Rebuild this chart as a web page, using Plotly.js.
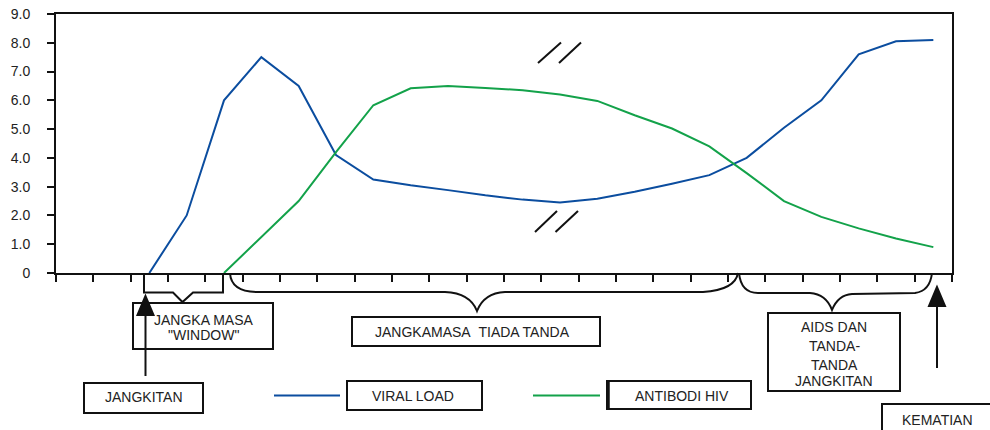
<!DOCTYPE html>
<html>
<head>
<meta charset="utf-8">
<script src="https://cdn.plot.ly/plotly-3.0.1.min.js"></script>
<style>html,body{margin:0;padding:0;background:#fff;}#chart{width:990px;height:430px;}</style>
</head>
<body>
<div id="chart"></div>
<script>
// ---- data ----
const periods = [0, 1, 2, 3, 4, 5, 6, 7, 8, 9, 10, 11, 12, 13, 14, 15, 16, 17, 18, 19, 20, 21, 22, 23];
const viralLoad = [null, null, 0, 2.0, 6.0, 7.5, 6.5, 4.1, 3.25, 3.05, 2.88, 2.7, 2.55, 2.45, 2.58, 2.82, 3.1, 3.4, 4.0, 5.05, 6.0, 7.6, 8.05, 8.1];
const antibodiHIV = [null, null, null, null, 0, 1.25, 2.5, 4.2, 5.83, 6.42, 6.5, 6.43, 6.35, 6.2, 5.98, 5.48, 5.02, 4.4, 3.47, 2.5, 1.95, 1.55, 1.2, 0.9];
const yTickVals = [0, 1, 2, 3, 4, 5, 6, 7, 8, 9];
const yTickText = ['0', '1.0', '2.0', '3.0', '4.0', '5.0', '6.0', '7.0', '8.0', '9.0'];
const seriesNames = ['VIRAL LOAD', 'ANTIBODI HIV'];

// ---- layout helpers (pixel -> paper) ----
const L = 56, R = 952, T = 14, B = 273;
const px = x => (x - L) / (R - L);
const py = y => (B - y) / (B - T);
function path(cmds) {
  // cmds: array of [letter, x1, y1, x2, y2 ...]
  return cmds.map(c => {
    const out = [c[0]];
    for (let i = 1; i < c.length; i += 2) out.push(px(c[i]).toFixed(5) + ',' + py(c[i + 1]).toFixed(5));
    return out.join(' ');
  }).join(' ');
}
const blk = {color: '#111', width: 2};
const shapes = [];
function rect(x0, y0, x1, y1, w) {
  shapes.push({type: 'rect', xref: 'paper', yref: 'paper', x0: px(x0), x1: px(x1), y0: py(y0), y1: py(y1),
    line: {color: '#111', width: w || 2}, fillcolor: 'rgba(0,0,0,0)'});
}
function seg(x0, y0, x1, y1, color, w) {
  shapes.push({type: 'line', xref: 'paper', yref: 'paper', x0: px(x0), x1: px(x1), y0: py(y0), y1: py(y1),
    line: {color: color || '#111', width: w || 2}});
}
function pth(cmds, fill) {
  shapes.push({type: 'path', xref: 'paper', yref: 'paper', path: path(cmds), line: blk,
    fillcolor: fill || 'rgba(0,0,0,0)'});
}

// brackets / braces
pth([['M', 144, 273], ['L', 144, 292.5], ['L', 173, 292.5], ['L', 182.5, 302], ['L', 193, 292.5], ['L', 223, 292.5], ['L', 223, 273]]);
pth([['M', 230, 273], ['Q', 231, 292, 258, 292], ['L', 445, 292], ['Q', 470, 293, 477, 311], ['Q', 484, 293, 505, 292], ['L', 703, 292], ['Q', 735, 290, 738, 273]]);
pth([['M', 739, 273], ['Q', 741, 293, 758, 293], ['L', 810, 293], ['Q', 826, 294, 832, 310], ['Q', 838, 295, 852, 294], ['L', 915, 293], ['Q', 930, 291, 932, 273]]);

// arrows
seg(145.5, 376, 145.5, 305);
pth([['M', 145.5, 296], ['L', 137.5, 315], ['L', 153.5, 315], ['Z']], '#111');
seg(937, 368, 937, 300);
pth([['M', 937, 287], ['L', 929, 306], ['L', 945, 306], ['Z']], '#111');

// boxes
rect(133, 303, 273, 349);
rect(84, 383, 203, 413);
rect(352, 317, 600, 346);
rect(347, 381, 482, 410);
rect(607, 381, 751, 409);
seg(608, 381, 608, 409, '#111', 3.5);
rect(768, 313, 900, 391);
rect(882, 404, 1000, 440);

// legend lines
seg(274, 395.5, 340, 395.5, '#0b4d9f', 2);
seg(533, 395.5, 600, 395.5, '#13a24a', 2);

// break marks
seg(538, 63, 561, 42.5);
seg(559, 63, 581, 42.5);
seg(535, 232, 557, 211);
seg(555.5, 232, 578, 211);

const fnt = {family: 'Liberation Sans, Arial, sans-serif', size: 14, color: '#222'};
const annotations = [];
function txt(x, y, t) {
  annotations.push({xref: 'paper', yref: 'paper', x: px(x), y: py(y), text: t, showarrow: false,
    xanchor: 'center', yanchor: 'middle', font: fnt});
}
txt(203.5, 319.5, 'JANGKA MASA');
txt(203.5, 334.5, '"WINDOW"');
txt(143.7, 396.5, 'JANGKITAN');
txt(472.5, 332, 'JANGKAMASA&nbsp;&nbsp;TIADA TANDA');
txt(412.5, 395.5, seriesNames[0]);
txt(681.7, 395.5, seriesNames[1]);
txt(834, 326.5, 'AIDS DAN');
txt(834, 346, 'TANDA-');
txt(834, 364.5, 'TANDA');
txt(834, 381, 'JANGKITAN');
txt(937.5, 420, 'KEMATIAN');

const traces = [
  {x: periods, y: viralLoad, name: seriesNames[0], type: 'scatter', mode: 'lines',
   line: {color: '#0b4d9f', width: 2}, connectgaps: false, hoverinfo: 'skip'},
  {x: periods, y: antibodiHIV, name: seriesNames[1], type: 'scatter', mode: 'lines',
   line: {color: '#13a24a', width: 2}, connectgaps: false, hoverinfo: 'skip'}
];

const layout = {
  width: 990, height: 430,
  margin: {l: L, r: 990 - R, t: T, b: 430 - B, pad: 0},
  paper_bgcolor: '#fff', plot_bgcolor: '#fff',
  showlegend: false,
  font: fnt,
  xaxis: {range: [-0.5, 23.5], tickmode: 'linear', tick0: -0.5, dtick: 1, showticklabels: false,
    ticks: 'outside', ticklen: 7, tickwidth: 2, tickcolor: '#111',
    showline: true, linecolor: '#111', linewidth: 2, mirror: true, showgrid: false, zeroline: false, fixedrange: true},
  yaxis: {range: [0, 9], tickmode: 'array', tickvals: yTickVals, ticktext: yTickText,
    ticks: 'outside', ticklen: 7, tickwidth: 2, tickcolor: '#111', ticklabelstandoff: 14,
    tickfont: {family: 'Liberation Sans, Arial, sans-serif', size: 14, color: '#222'},
    showline: true, linecolor: '#111', linewidth: 2, mirror: true, showgrid: false, zeroline: false, fixedrange: true},
  shapes: shapes,
  annotations: annotations
};
Plotly.newPlot('chart', traces, layout, {displayModeBar: false, staticPlot: true});
</script>
</body>
</html>
